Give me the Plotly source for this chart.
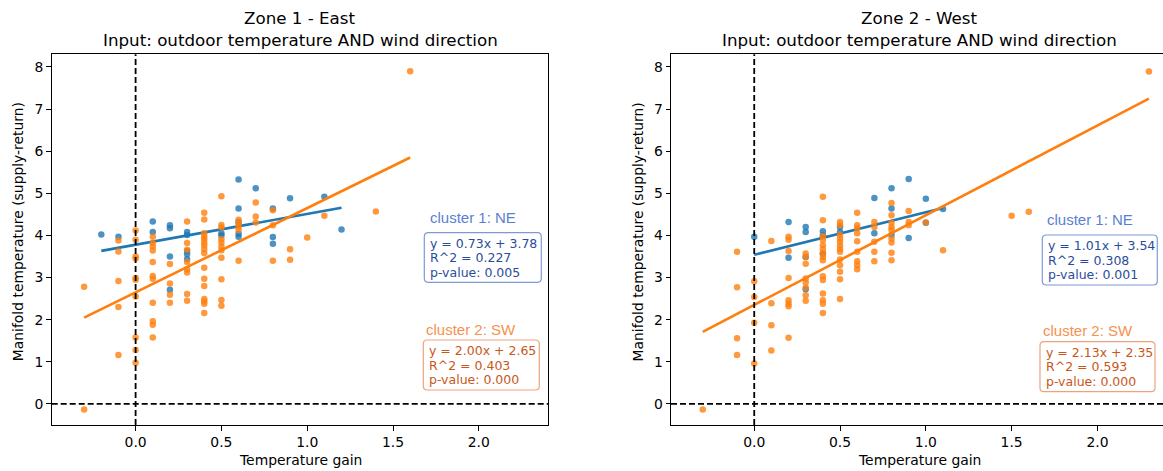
import plotly.graph_objects as go

# ---------------- data ----------------
zone_titles = ["Zone 1 - East", "Zone 2 - West"]
subtitle = "Input: outdoor temperature AND wind direction"
x_label = "Temperature gain"
y_label = "Manifold temperature (supply-return)"
cluster_names = ["cluster 1: NE", "cluster 2: SW"]
x_tick_vals = [0.0, 0.5, 1.0, 1.5, 2.0]
y_tick_vals = [0, 1, 2, 3, 4, 5, 6, 7, 8]

# Zone 1 - cluster 1 (NE)
z1_ne_x = [-0.2, -0.1, 0.1, 0.1, 0.2, 0.2, 0.2, 0.2, 0.3, 0.3, 0.3, 0.3, 0.3,
           0.5, 0.5, 0.6, 0.6, 0.6, 0.6, 0.6, 0.7, 0.8, 0.8, 0.8, 0.9, 1.1, 1.2]
z1_ne_y = [4.02, 3.97, 4.33, 4.08, 4.24, 4.17, 3.50, 2.71, 4.08, 4.01, 3.63, 3.56, 3.44,
           4.05, 4.00, 5.33, 4.64, 4.32, 4.04, 3.97, 5.12, 4.64, 3.96, 3.80, 4.88, 4.92, 4.14]

# Zone 1 - cluster 2 (SW)
z1_sw_x = [-0.3, -0.3,
           -0.1, -0.1, -0.1, -0.1, -0.1,
           0.0, 0.0, 0.0, 0.0, 0.0, 0.0, 0.0, 0.0, 0.0, 0.0,
           0.1, 0.1, 0.1, 0.1, 0.1, 0.1, 0.1, 0.1, 0.1, 0.1, 0.1,
           0.2, 0.2, 0.2, 0.2,
           0.3, 0.3, 0.3, 0.3, 0.3, 0.3, 0.3, 0.3,
           0.4, 0.4, 0.4, 0.4, 0.4, 0.4, 0.4, 0.4, 0.4, 0.4, 0.4, 0.4, 0.4, 0.4, 0.4, 0.4,
           0.5, 0.5, 0.5, 0.5, 0.5, 0.5, 0.5, 0.5, 0.5, 0.5, 0.5,
           0.6, 0.6, 0.6, 0.6, 0.6,
           0.7, 0.7, 0.7,
           0.8, 0.8, 0.8,
           0.9, 0.9,
           1.0, 1.1, 1.4, 1.6]
z1_sw_y = [2.78, -0.13,
           3.88, 3.62, 2.92, 2.30, 1.16,
           4.12, 3.90, 3.50, 3.45, 2.99, 2.95, 2.55, 1.58, 1.28, 0.98,
           3.97, 3.82, 3.74, 3.64, 3.37, 3.04, 2.97, 2.40, 1.96, 1.88, 1.58,
           3.32, 2.86, 2.59, 2.40,
           4.33, 3.82, 3.66, 3.37, 3.20, 3.12, 2.61, 2.45,
           4.54, 4.38, 4.05, 3.97, 3.91, 3.83, 3.76, 3.67, 3.58, 3.23, 2.97, 2.80, 2.49, 2.43, 2.38, 2.16,
           4.93, 4.25, 4.19, 3.91, 3.83, 3.74, 3.65, 3.47, 2.96, 2.47, 2.33,
           4.37, 4.29, 4.21, 4.13, 3.40,
           4.78, 4.45, 4.31,
           4.60, 4.24, 3.40,
           3.67, 3.42,
           3.95, 4.47, 4.57, 7.90]

# Zone 2 - cluster 1 (NE)
z2_ne_x = [0.0, 0.2, 0.2, 0.3, 0.3, 0.3, 0.3, 0.4, 0.4, 0.4, 0.5, 0.5,
           0.7, 0.7, 0.8, 0.8, 0.8, 0.9, 0.9, 1.0, 1.0, 1.1]
z2_ne_y = [3.97, 4.32, 3.47, 4.20, 4.08, 3.49, 2.72, 4.10, 4.00, 3.57, 4.20, 4.08,
           4.89, 4.05, 5.12, 4.64, 4.01, 5.34, 3.94, 4.87, 4.30, 4.63]

# Zone 2 - cluster 2 (SW)
z2_sw_x = [-0.3,
           -0.1, -0.1, -0.1, -0.1,
           0.0, 0.0, 0.0, 0.0,
           0.1, 0.1, 0.1, 0.1,
           0.2, 0.2, 0.2, 0.2, 0.2, 0.2, 0.2, 0.2,
           0.3, 0.3, 0.3, 0.3, 0.3, 0.3, 0.3, 0.3,
           0.4, 0.4, 0.4, 0.4, 0.4, 0.4, 0.4, 0.4, 0.4, 0.4, 0.4, 0.4, 0.4, 0.4, 0.4,
           0.5, 0.5, 0.5, 0.5, 0.5, 0.5, 0.5, 0.5, 0.5, 0.5, 0.5, 0.5, 0.5,
           0.6, 0.6, 0.6, 0.6, 0.6, 0.6, 0.6, 0.6, 0.6,
           0.7, 0.7, 0.7, 0.7, 0.7,
           0.8, 0.8, 0.8, 0.8, 0.8, 0.8, 0.8, 0.8, 0.8,
           0.9, 0.9, 0.9,
           1.0, 1.1, 1.5, 1.6, 2.3]
z2_sw_y = [-0.13,
           3.61, 2.77, 1.56, 1.16,
           2.91, 2.54, 1.93, 0.96,
           3.87, 2.39, 1.87, 1.27,
           3.97, 3.90, 3.63, 2.99, 2.46, 2.38, 2.32, 1.57,
           3.57, 3.49, 3.33, 2.98, 2.88, 2.76, 2.58, 2.45,
           4.92, 4.36, 3.98, 3.89, 3.77, 3.67, 3.57, 3.49, 3.41, 3.03, 2.94, 2.62, 2.46, 2.38, 2.16,
           4.32, 4.24, 4.01, 3.93, 3.85, 3.76, 3.68, 3.61, 3.43, 3.29, 3.14, 2.96, 2.49,
           4.54, 4.24, 4.17, 4.05, 3.86, 3.61, 3.39, 3.29, 3.20,
           4.32, 4.20, 3.85, 3.61, 3.39,
           4.77, 4.48, 4.30, 4.20, 4.13, 3.93, 3.83, 3.59, 3.41,
           4.58, 4.32, 4.24,
           4.31, 3.65, 4.47, 4.56, 7.89]

# regression results printed on the chart: [zone][cluster]
fit_slope = [[0.73, 2.00], [1.01, 2.13]]
fit_intercept = [[3.78, 2.65], [3.54, 2.35]]
fit_r2 = [[0.227, 0.403], [0.308, 0.593]]
fit_pvalue = [[0.005, 0.000], [0.001, 0.000]]

# ---------------- styling / layout ----------------
W, H = 1163, 471
FONT = "DejaVu Sans"
C_BLUE = "#1f77b4"
C_ORANGE = "#ff7f0e"
LABEL_COL = ["#5a7fd1", "#f6924f"]
BOX_TEXT_COL = ["#2b4c9b", "#c9571a"]
BOX_EDGE_COL = ["#7f98d6", "#eca37c"]


def px(x):
    return x / W


def py(y):
    return 1 - y / H


# axes pixel boxes (left, right, top, bottom)
axes_px = [(51.7, 548.3, 54.3, 425.0), (671.0, 1163.0, 54.3, 425.0)]
x_ranges = [[-0.489, 2.405], [-0.485, 2.382]]
y_range = [-0.5, 8.3]

fig = go.Figure()

data = [
    [(z1_ne_x, z1_ne_y), (z1_sw_x, z1_sw_y)],
    [(z2_ne_x, z2_ne_y), (z2_sw_x, z2_sw_y)],
]
colors = [C_BLUE, C_ORANGE]

for zi in range(2):
    xa = "x" if zi == 0 else "x2"
    ya = "y" if zi == 0 else "y2"
    for ci in range(2):
        xs, ys = data[zi][ci]
        fig.add_trace(go.Scatter(
            x=xs, y=ys, mode="markers", xaxis=xa, yaxis=ya,
            marker=dict(color=colors[ci], size=6.5, opacity=0.8, line=dict(width=0)),
            showlegend=False, hoverinfo="skip"))
        lx = [min(xs), max(xs)]
        ly = [fit_slope[zi][ci] * v + fit_intercept[zi][ci] for v in lx]
        fig.add_trace(go.Scatter(
            x=lx, y=ly, mode="lines", xaxis=xa, yaxis=ya,
            line=dict(color=colors[ci], width=2.6),
            showlegend=False, hoverinfo="skip"))

axis_common = dict(
    showgrid=False, zeroline=False, showline=True, linecolor="black", linewidth=1,
    ticks="outside", ticklen=4.5, tickwidth=1, tickcolor="black",
    tickfont=dict(family=FONT, size=13.9, color="black"), automargin=False,
)

layout_axes = {}
for zi in range(2):
    l, r, t, b = axes_px[zi]
    sfx = "" if zi == 0 else "2"
    layout_axes["xaxis" + sfx] = dict(
        axis_common, domain=[px(l), min(1.0, px(r))], range=x_ranges[zi],
        tickvals=x_tick_vals, ticktext=[f"{v:.1f}" for v in x_tick_vals],
        mirror=True, anchor="y" + sfx)
    layout_axes["yaxis" + sfx] = dict(
        axis_common, domain=[py(b), py(t)], range=y_range,
        tickvals=y_tick_vals, ticktext=[str(v) for v in y_tick_vals],
        mirror=(zi == 0), anchor="x" + sfx)

shapes = []
annotations = []


def rounded_rect(x0, y0, x1, y1, r=4):
    # pixel coords -> paper path
    pts = [
        f"M {px(x0 + r)} {py(y0)}",
        f"L {px(x1 - r)} {py(y0)}",
        f"Q {px(x1)} {py(y0)} {px(x1)} {py(y0 + r)}",
        f"L {px(x1)} {py(y1 - r)}",
        f"Q {px(x1)} {py(y1)} {px(x1 - r)} {py(y1)}",
        f"L {px(x0 + r)} {py(y1)}",
        f"Q {px(x0)} {py(y1)} {px(x0)} {py(y1 - r)}",
        f"L {px(x0)} {py(y0 + r)}",
        f"Q {px(x0)} {py(y0)} {px(x0 + r)} {py(y0)}",
        "Z",
    ]
    return " ".join(pts)


# annotation placements in pixels: per zone, per cluster
label_pos = [[(473.0, 217.5), (470.5, 329.0)], [(1090.0, 219.5), (1087.5, 330.5)]]
box_pos = [[(424.3, 232.7, 541.3, 282.3), (423.3, 340.0, 539.3, 390.0)],
           [(1042.3, 235.0, 1157.3, 285.0), (1040.0, 341.7, 1155.0, 391.7)]]
panel_center = [(51.7 + 548.3) / 2, (671.0 + 1167.0) / 2]

for zi in range(2):
    l, r, t, b = axes_px[zi]
    xa = "x" if zi == 0 else "x2"
    ya = "y" if zi == 0 else "y2"
    cx = panel_center[zi]
    # dashed zero lines
    shapes.append(dict(type="line", xref=xa, yref=ya + " domain", x0=0, x1=0, y0=0, y1=1,
                       line=dict(color="black", width=1.8, dash="6px,3px")))
    shapes.append(dict(type="line", xref=xa + " domain", yref=ya, x0=0, x1=1, y0=0, y1=0,
                       line=dict(color="black", width=1.8, dash="6px,3px")))
    # titles
    annotations.append(dict(text=zone_titles[zi], x=px(cx), y=py(18.5), xref="paper", yref="paper",
                            showarrow=False, xanchor="center", yanchor="middle",
                            font=dict(family=FONT, size=16.7, color="black")))
    annotations.append(dict(text=subtitle, x=px(cx), y=py(40.0), xref="paper", yref="paper",
                            showarrow=False, xanchor="center", yanchor="middle",
                            font=dict(family=FONT, size=16.7, color="black")))
    # axis titles
    annotations.append(dict(text=x_label, x=px(cx), y=py(460.0), xref="paper", yref="paper",
                            showarrow=False, xanchor="center", yanchor="middle",
                            font=dict(family=FONT, size=13.9, color="black")))
    annotations.append(dict(text=y_label, x=px(l - 33.5), y=py(232.0), xref="paper", yref="paper",
                            showarrow=False, xanchor="center", yanchor="middle", textangle=-90,
                            font=dict(family=FONT, size=13.9, color="black")))
    # cluster labels + stat boxes
    for ci in range(2):
        lxp, lyp = label_pos[zi][ci]
        annotations.append(dict(text=cluster_names[ci], x=px(lxp), y=py(lyp), xref="paper", yref="paper",
                                showarrow=False, xanchor="center", yanchor="middle",
                                font=dict(family="Liberation Sans", size=15, color=LABEL_COL[ci])))
        bx0, by0, bx1, by1 = box_pos[zi][ci]
        shapes.append(dict(type="path", xref="paper", yref="paper", path=rounded_rect(bx0, by0, bx1, by1),
                           fillcolor="white", line=dict(color=BOX_EDGE_COL[ci], width=1.2), layer="above"))
        m = fit_slope[zi][ci]
        c = fit_intercept[zi][ci]
        lines = [f"y = {m:.2f}x + {c:.2f}", f"R^2 = {fit_r2[zi][ci]:.3f}", f"p-value: {fit_pvalue[zi][ci]:.3f}"]
        for k, txt in enumerate(lines):
            annotations.append(dict(text=txt, x=px(bx0 + 4.0), y=py(by0 + 10.5 + 14.7 * k),
                                    xref="paper", yref="paper", showarrow=False,
                                    xanchor="left", yanchor="middle",
                                    font=dict(family=FONT, size=12.5, color=BOX_TEXT_COL[ci])))

fig.update_layout(
    width=W, height=H, margin=dict(l=0, r=0, t=0, b=0),
    paper_bgcolor="white", plot_bgcolor="white",
    shapes=shapes, annotations=annotations, showlegend=False,
    **layout_axes,
)

fig.write_html(
    "out.html",
    config={"displayModeBar": False},
    post_script="document.body.style.margin='0';document.body.style.padding='0';"
                "document.body.style.overflow='hidden';",
)
